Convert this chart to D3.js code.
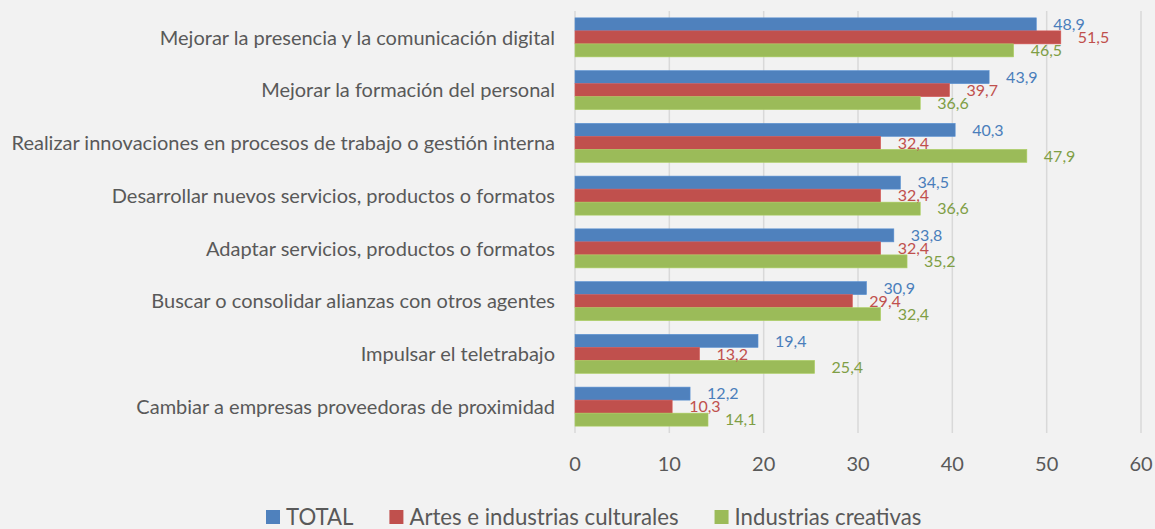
<!DOCTYPE html>
<html>
<head>
<meta charset="utf-8">
<script src="https://cdn.jsdelivr.net/npm/d3@7"></script>
<style>
  html, body { margin: 0; padding: 0; background: #f2f2f2; }
  svg { display: block; font-family: Lato, "Open Sans", sans-serif; }
</style>
</head>
<body>
<div id="chart"></div>
<script>
{
    // canvas setup
    const width = 1155, height = 529;
    const margin = {top: 11, right: 14, bottom: 96, left: 575};

    // data
    const categories = [
        "Mejorar la presencia y la comunicación digital",
        "Mejorar la formación del personal",
        "Realizar innovaciones en procesos de trabajo o gestión interna",
        "Desarrollar nuevos servicios, productos o formatos",
        "Adaptar servicios, productos o formatos",
        "Buscar o consolidar alianzas con otros agentes",
        "Impulsar el teletrabajo",
        "Cambiar a empresas proveedoras de proximidad"
    ];
    const seriesNames = ["TOTAL", "Artes e industrias culturales", "Industrias creativas"];
    const totalValues = [48.9, 43.9, 40.3, 34.5, 33.8, 30.9, 19.4, 12.2];
    const artesValues = [51.5, 39.7, 32.4, 32.4, 32.4, 29.4, 13.2, 10.3];
    const creativasValues = [46.5, 36.6, 47.9, 36.6, 35.2, 32.4, 25.4, 14.1];
    const xTicks = [0, 10, 20, 30, 40, 50, 60];

    const seriesValues = [totalValues, artesValues, creativasValues];
    const barColors = ["#4f81bd", "#c0504d", "#9bbb59"];
    const labelColors = ["#4a7ebb", "#c0504d", "#7f9e45"];

    const svg = d3.select("#chart")
        .append("svg")
        .attr("width", width)
        .attr("height", height);

    const x = d3.scaleLinear()
        .domain([0, 60])
        .range([margin.left, width - margin.right]);

    const y = d3.scaleBand()
        .domain(categories)
        .range([margin.top, height - margin.bottom])
        .paddingInner(0.26)
        .paddingOuter(0.13);

    const ySub = d3.scaleBand()
        .domain(d3.range(seriesNames.length))
        .range([0, y.bandwidth()]);

    const plotTop = margin.top, plotBottom = height - margin.bottom;

    // gridlines
    svg.append("g")
        .selectAll("line")
        .data(xTicks)
        .join("line")
        .attr("x1", d => x(d))
        .attr("x2", d => x(d))
        .attr("y1", plotTop)
        .attr("y2", plotBottom)
        .attr("stroke", "#d9d9d9")
        .attr("stroke-width", 1.5);

    // tick labels
    svg.append("g")
        .selectAll("text")
        .data(xTicks)
        .join("text")
        .attr("x", d => x(d))
        .attr("y", 471)
        .attr("text-anchor", "middle")
        .attr("fill", "#595959")
        .style("font-size", "20px")
        .text(d => d);

    // category labels
    svg.append("g")
        .selectAll("text")
        .data(categories)
        .join("text")
        .attr("x", 555)
        .attr("y", d => y(d) + y.bandwidth() / 2)
        .attr("dy", "0.36em")
        .attr("text-anchor", "end")
        .attr("fill", "#595959")
        .style("font-size", "20px")
        .text(d => d);

    // bars and labels
    const rows = [];
    categories.forEach((c, i) => {
        seriesValues.forEach((vals, s) => rows.push({c, s, v: vals[i]}));
    });

    svg.append("g")
        .selectAll("rect")
        .data(rows)
        .join("rect")
        .attr("x", x(0))
        .attr("y", d => y(d.c) + ySub(d.s))
        .attr("width", d => x(d.v) - x(0))
        .attr("height", ySub.bandwidth())
        .attr("fill", d => barColors[d.s])
        .attr("stroke", d => d3.color(barColors[d.s]).brighter(0.3))
        .attr("stroke-width", 0.6);

    const fmt = v => v.toFixed(1).replace(".", ",");

    svg.append("g")
        .selectAll("text")
        .data(rows)
        .join("text")
        .attr("x", d => x(d.v) + 17)
        .attr("y", d => y(d.c) + ySub(d.s) + ySub.bandwidth() / 2)
        .attr("dy", "0.36em")
        .attr("fill", d => labelColors[d.s])
        .style("font-size", "16px")
        .text(d => fmt(d.v));

    // legend
    const legend = svg.append("g").attr("transform", "translate(266,510)");
    let lx = 0;
    seriesNames.forEach((name, s) => {
        const item = legend.append("g").attr("transform", `translate(${lx},0)`);
        item.append("rect")
            .attr("width", 14)
            .attr("height", 14)
            .attr("fill", barColors[s]);
        const t = item.append("text")
            .attr("x", 20)
            .attr("y", 7)
            .attr("dy", "0.36em")
            .attr("fill", "#595959")
            .style("font-size", "22.2px")
            .text(name);
        lx += 20 + t.node().getComputedTextLength() + 36;
    });
}
</script>
</body>
</html>
